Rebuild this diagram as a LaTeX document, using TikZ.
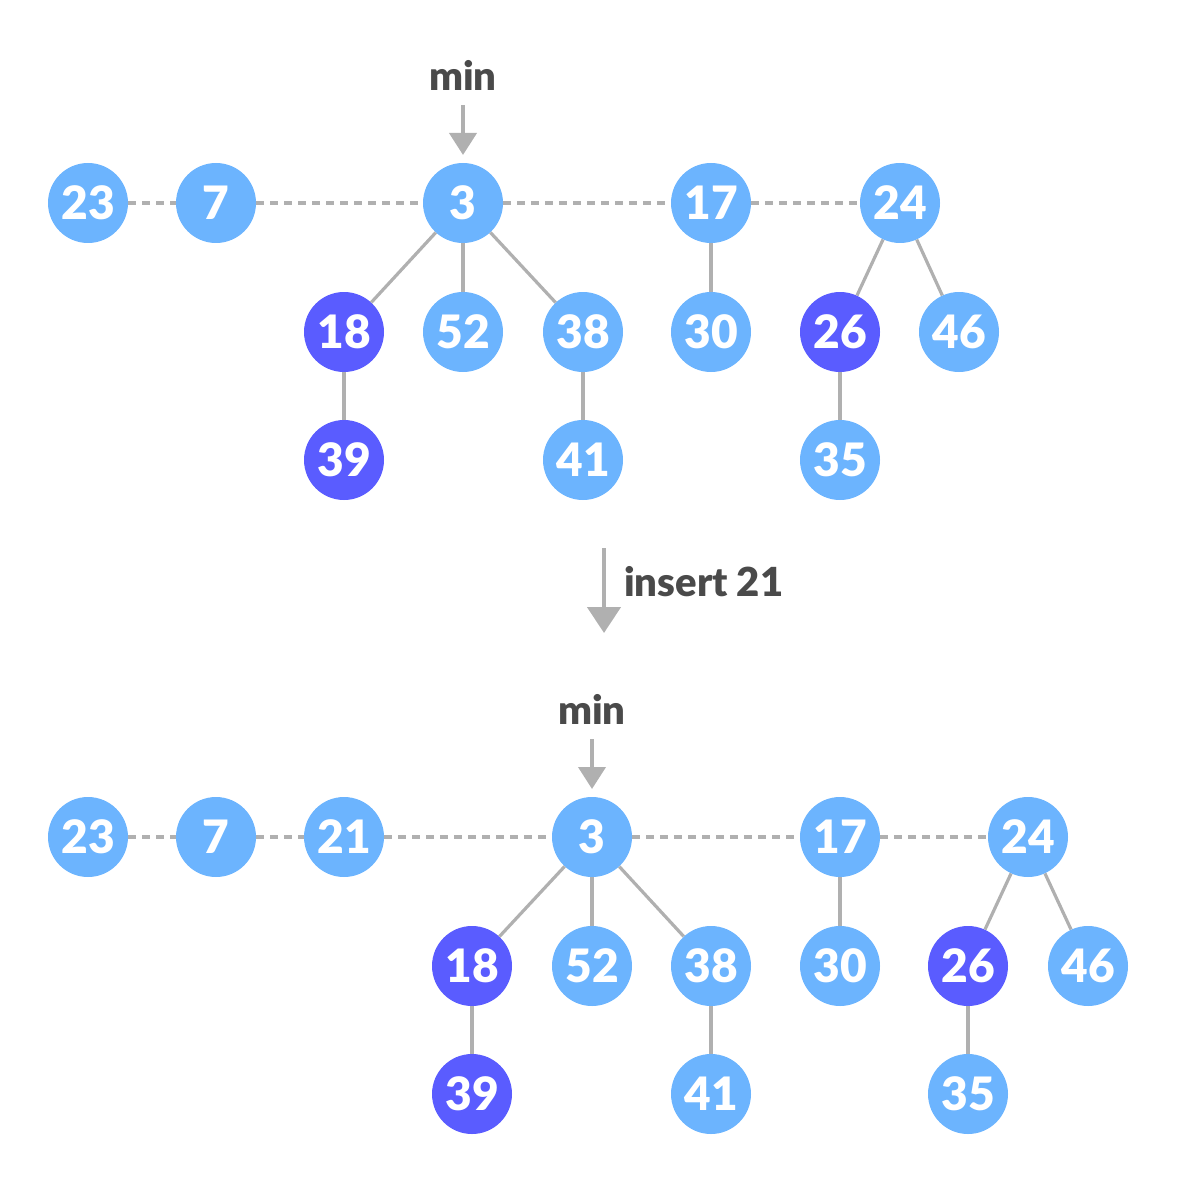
\documentclass[tikz,border=0pt]{standalone}
\usepackage{fontspec}
\setmainfont{Lato}[BoldFont={Lato Black}]
\usetikzlibrary{arrows.meta}
\definecolor{lb}{HTML}{6CB4FE}
\definecolor{db}{HTML}{5A5CFF}
\definecolor{ln}{HTML}{B0B0B0}
\definecolor{tx}{HTML}{4A4A4A}
\tikzset{
  nd/.style={circle,fill=lb,minimum size=80pt,inner sep=0pt,text=white,font=\fontsize{46}{46}\selectfont\bfseries},
  dk/.style={nd,fill=db},
  edge/.style={draw=ln,line width=3.2pt},
  dline/.style={draw=ln,line width=3.2pt,dash pattern=on 8pt off 6pt},
  lbl/.style={text=tx,font=\fontsize{40}{40}\selectfont\bfseries,inner sep=0pt},
  marr/.style={draw=ln,line width=4pt,-{Triangle[width=27pt,length=22pt]},color=ln},
  iarr/.style={draw=ln,line width=4.5pt,-{Triangle[width=33pt,length=26pt]},color=ln}
}
\begin{document}
\begin{tikzpicture}[x=1pt,y=-1pt]
\useasboundingbox (0,0) rectangle (1176,1182);
% top heap
\node[nd] (a23) at (88,203) {23};
\node[nd] (a7) at (216,203) {7};
\node[nd] (a3) at (463,203) {3};
\node[nd] (a17) at (711,203) {17};
\node[nd] (a24) at (900,203) {24};
\node[dk] (a18) at (344,332) {18};
\node[nd] (a52) at (463,332) {52};
\node[nd] (a38) at (583,332) {38};
\node[nd] (a30) at (711,332) {30};
\node[dk] (a26) at (840,332) {26};
\node[nd] (a46) at (959,332) {46};
\node[dk] (a39) at (344,460) {39};
\node[nd] (a41) at (583,460) {41};
\node[nd] (a35) at (840,460) {35};
\draw[dline] (a23) -- (a7);
\draw[dline] (a7) -- (a3);
\draw[dline] (a3) -- (a17);
\draw[dline] (a17) -- (a24);
\draw[edge] (a3) -- (a18);
\draw[edge] (a3) -- (a52);
\draw[edge] (a3) -- (a38);
\draw[edge] (a17) -- (a30);
\draw[edge] (a24) -- (a26);
\draw[edge] (a24) -- (a46);
\draw[edge] (a18) -- (a39);
\draw[edge] (a38) -- (a41);
\draw[edge] (a26) -- (a35);
\node[lbl] (amin) at (463,75) {min};
\coordinate (amt) at (463,105);
\coordinate (amh) at (463,155);
\draw[marr] (amt) -- (amh);
% insert arrow
\coordinate (it) at (604,548);
\coordinate (ih) at (604,633);
\draw[iarr] (it) -- (ih);
\node[lbl,anchor=west] (ins) at (624,582) {insert 21};
% bottom heap
\node[nd] (b23) at (88,837) {23};
\node[nd] (b7) at (216,837) {7};
\node[nd] (b21) at (344,837) {21};
\node[nd] (b3) at (592,837) {3};
\node[nd] (b17) at (840,837) {17};
\node[nd] (b24) at (1028,837) {24};
\node[dk] (b18) at (472,966) {18};
\node[nd] (b52) at (592,966) {52};
\node[nd] (b38) at (711,966) {38};
\node[nd] (b30) at (840,966) {30};
\node[dk] (b26) at (968,966) {26};
\node[nd] (b46) at (1088,966) {46};
\node[dk] (b39) at (472,1094) {39};
\node[nd] (b41) at (711,1094) {41};
\node[nd] (b35) at (968,1094) {35};
\draw[dline] (b23) -- (b7);
\draw[dline] (b7) -- (b21);
\draw[dline] (b21) -- (b3);
\draw[dline] (b3) -- (b17);
\draw[dline] (b17) -- (b24);
\draw[edge] (b3) -- (b18);
\draw[edge] (b3) -- (b52);
\draw[edge] (b3) -- (b38);
\draw[edge] (b17) -- (b30);
\draw[edge] (b24) -- (b26);
\draw[edge] (b24) -- (b46);
\draw[edge] (b18) -- (b39);
\draw[edge] (b38) -- (b41);
\draw[edge] (b26) -- (b35);
\node[lbl] (bmin) at (592,709) {min};
\coordinate (bmt) at (592,739);
\coordinate (bmh) at (592,789);
\draw[marr] (bmt) -- (bmh);
\end{tikzpicture}
\end{document}
